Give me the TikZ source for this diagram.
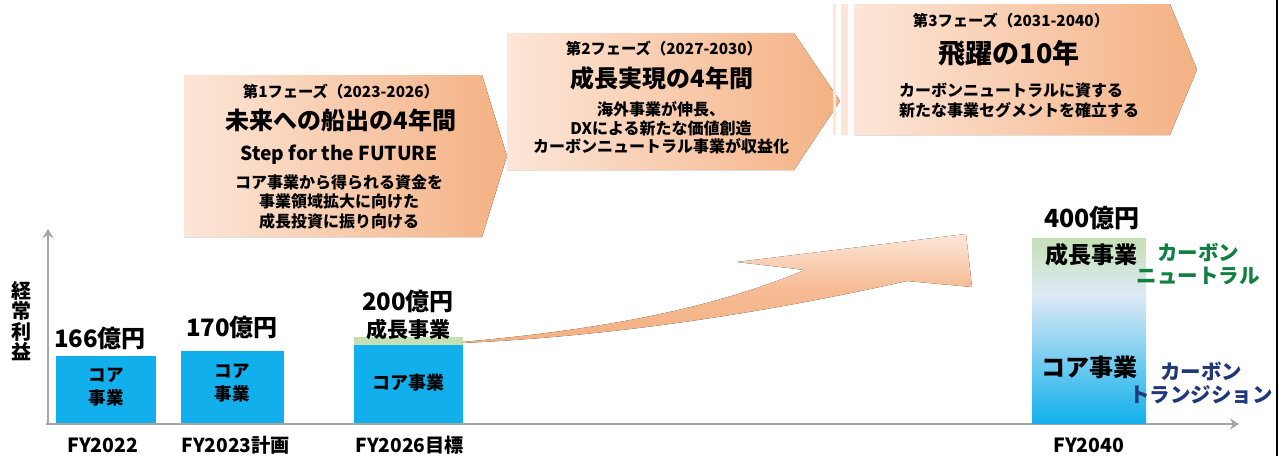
\documentclass[tikz,border=0pt]{standalone}
\usepackage{fontspec}
\setmainfont{Noto Sans CJK JP}
\usetikzlibrary{arrows.meta}
\definecolor{palepeach}{RGB}{252,230,216}
\definecolor{peach}{RGB}{244,177,131}
\definecolor{corebl}{RGB}{17,176,236}
\definecolor{growgr}{RGB}{197,224,180}
\definecolor{paleblue}{RGB}{222,234,246}
\definecolor{axisgray}{RGB}{166,166,166}
\definecolor{cngreen}{RGB}{16,128,64}
\definecolor{ctnavy}{RGB}{32,56,120}
\newcommand\fsz[2]{\fontsize{#1}{#2}\selectfont}
\begin{document}
\begin{tikzpicture}[x=1pt,y=-1pt,
  phase/.style={left color=palepeach,right color=peach,draw=none},
  txt/.style={inner sep=0pt,text=black},
  axisline/.style={draw=axisgray,line width=2.6pt,-{Stealth[length=9pt,width=11pt,inset=3pt]}},
  corebar/.style={fill=corebl},
  growbar/.style={fill=growgr}
]
\useasboundingbox (0,0) rectangle (1286,456);
\fill[white] (0,0) rectangle (1286,456);

% ---- phase arrows ----
\fill[phase] (507,33) -- (794,33) -- (840,101) -- (794,170) -- (507,170) -- cycle;
\fill[phase] (184,75) -- (482,75) -- (507,156) -- (482,237) -- (184,237) -- cycle;
\fill[palepeach] (833,4) rectangle (836,135);
\fill[palepeach] (841,4) rectangle (848,135);
\fill[phase] (854,4) -- (1170,4) -- (1197,69.5) -- (1170,135) -- (854,135) -- cycle;

% phase 1 text
\node[txt,font=\bfseries\fsz{15.3}{17}] (p1h) at (341,92) {第1フェーズ（2023-2026）};
\node[txt,font=\bfseries\fsz{24}{28}] (p1t) at (341,120) {未来への船出の4年間};
\node[txt,font=\bfseries\fsz{19.2}{22}] (p1s) at (339,155) {Step for the FUTURE};
\node[txt,align=center,font=\bfseries\fsz{16}{19.5}] (p1d) at (339,202) {コア事業から得られる資金を\\事業領域拡大に向けた\\成長投資に振り向ける};

% phase 2 text
\node[txt,font=\bfseries\fsz{15.3}{17}] (p2h) at (664,49) {第2フェーズ（2027-2030）};
\node[txt,font=\bfseries\fsz{24}{28}] (p2t) at (662,78) {成長実現の4年間};
\node[txt,align=center,font=\bfseries\fsz{16}{18.5}] (p2d) at (661,128) {海外事業が伸長、\\DXによる新たな価値創造\\カーボンニュートラル事業が収益化};

% phase 3 text
\node[txt,font=\bfseries\fsz{15.3}{17}] (p3h) at (1011,21) {第3フェーズ（2031-2040）};
\node[txt,font=\bfseries\fsz{27}{30}] (p3t) at (1009,53) {飛躍の10年};
\node[txt,align=left,anchor=west,font=\bfseries\fsz{16}{20}] (p3d) at (899,100) {カーボンニュートラルに資する\\新たな事業セグメントを確立する};

% ---- axes ----
\coordinate (orig) at (48,424);
\coordinate (ytop) at (48,229);
\coordinate (xleft) at (46,424);
\coordinate (xend) at (1239,424);
\draw[axisline] (orig) -- (ytop);
\draw[axisline] (xleft) -- (xend);
\node[txt,align=center,font=\bfseries\fsz{20}{20.5}] (ylab) at (22,321) {経\\常\\利\\益};

% ---- bars ----
\path[corebar] (56,356) rectangle (156,423);
\node[txt,align=center,font=\bfseries\fsz{17.5}{23}] (b1) at (106,387) {コア\\事業};
\node[txt,font=\bfseries\fsz{24}{26}] (v1) at (100,338) {166億円};
\node[txt,font=\bfseries\fsz{19.5}{22}] (x1) at (103,445) {FY2022};

\path[corebar] (181,351) rectangle (284,423);
\node[txt,align=center,font=\bfseries\fsz{17.5}{23}] (b2) at (232,383) {コア\\事業};
\node[txt,font=\bfseries\fsz{24}{26}] (v2) at (232,327) {170億円};
\node[txt,font=\bfseries\fsz{19.2}{22}] (x2) at (236,445) {FY2023計画};

\path[growbar] (354,337) rectangle (463,345);
\path[corebar] (354,345) rectangle (463,423);
\node[txt,font=\bfseries\fsz{18}{20}] (b3) at (408,383) {コア事業};
\node[txt,font=\bfseries\fsz{21}{23}] (g3) at (408,329) {成長事業};
\node[txt,font=\bfseries\fsz{24}{26}] (v3) at (408,301) {200億円};
\node[txt,font=\bfseries\fsz{19.2}{22}] (x3) at (410,445) {FY2026目標};

% ---- swoosh arrow ----
\fill[top color=palepeach,bottom color=peach,middle color=peach!80!palepeach]
  (462,342) .. controls (620,328) and (720,305) .. (805,270)
  -- (737,262) -- (966,234) -- (972,287) -- (907,281)
  .. controls (800,305) and (640,335) .. (462,343) -- cycle;

% ---- FY2040 bar ----
\fill[top color=growgr,bottom color=paleblue] (1032,238) rectangle (1146,295.5);
\fill[top color=paleblue,bottom color=corebl] (1032,295) rectangle (1146,423);
\node[txt,font=\bfseries\fsz{23}{25}] (g4) at (1091,255) {成長事業};
\node[txt,font=\bfseries\fsz{24}{26}] (b4) at (1089,367) {コア事業};
\node[txt,font=\bfseries\fsz{25}{27}] (v4) at (1092,218) {400億円};
\node[txt,font=\bfseries\fsz{19.5}{22}] (x4) at (1089,445) {FY2040};

\node[txt,text=cngreen,align=center,font=\bfseries\fsz{20.5}{23.5}] (cn) at (1198,264) {カーボン\\ニュートラル};
\node[txt,text=ctnavy,align=center,font=\bfseries\fsz{20.5}{23.5}] (ct) at (1201,383) {カーボン\\トランジション};

% right border
\coordinate (bt) at (1277,0);
\coordinate (bb) at (1277,456);
\draw[black,line width=2pt] (bt) -- (bb);
\end{tikzpicture}
\end{document}
